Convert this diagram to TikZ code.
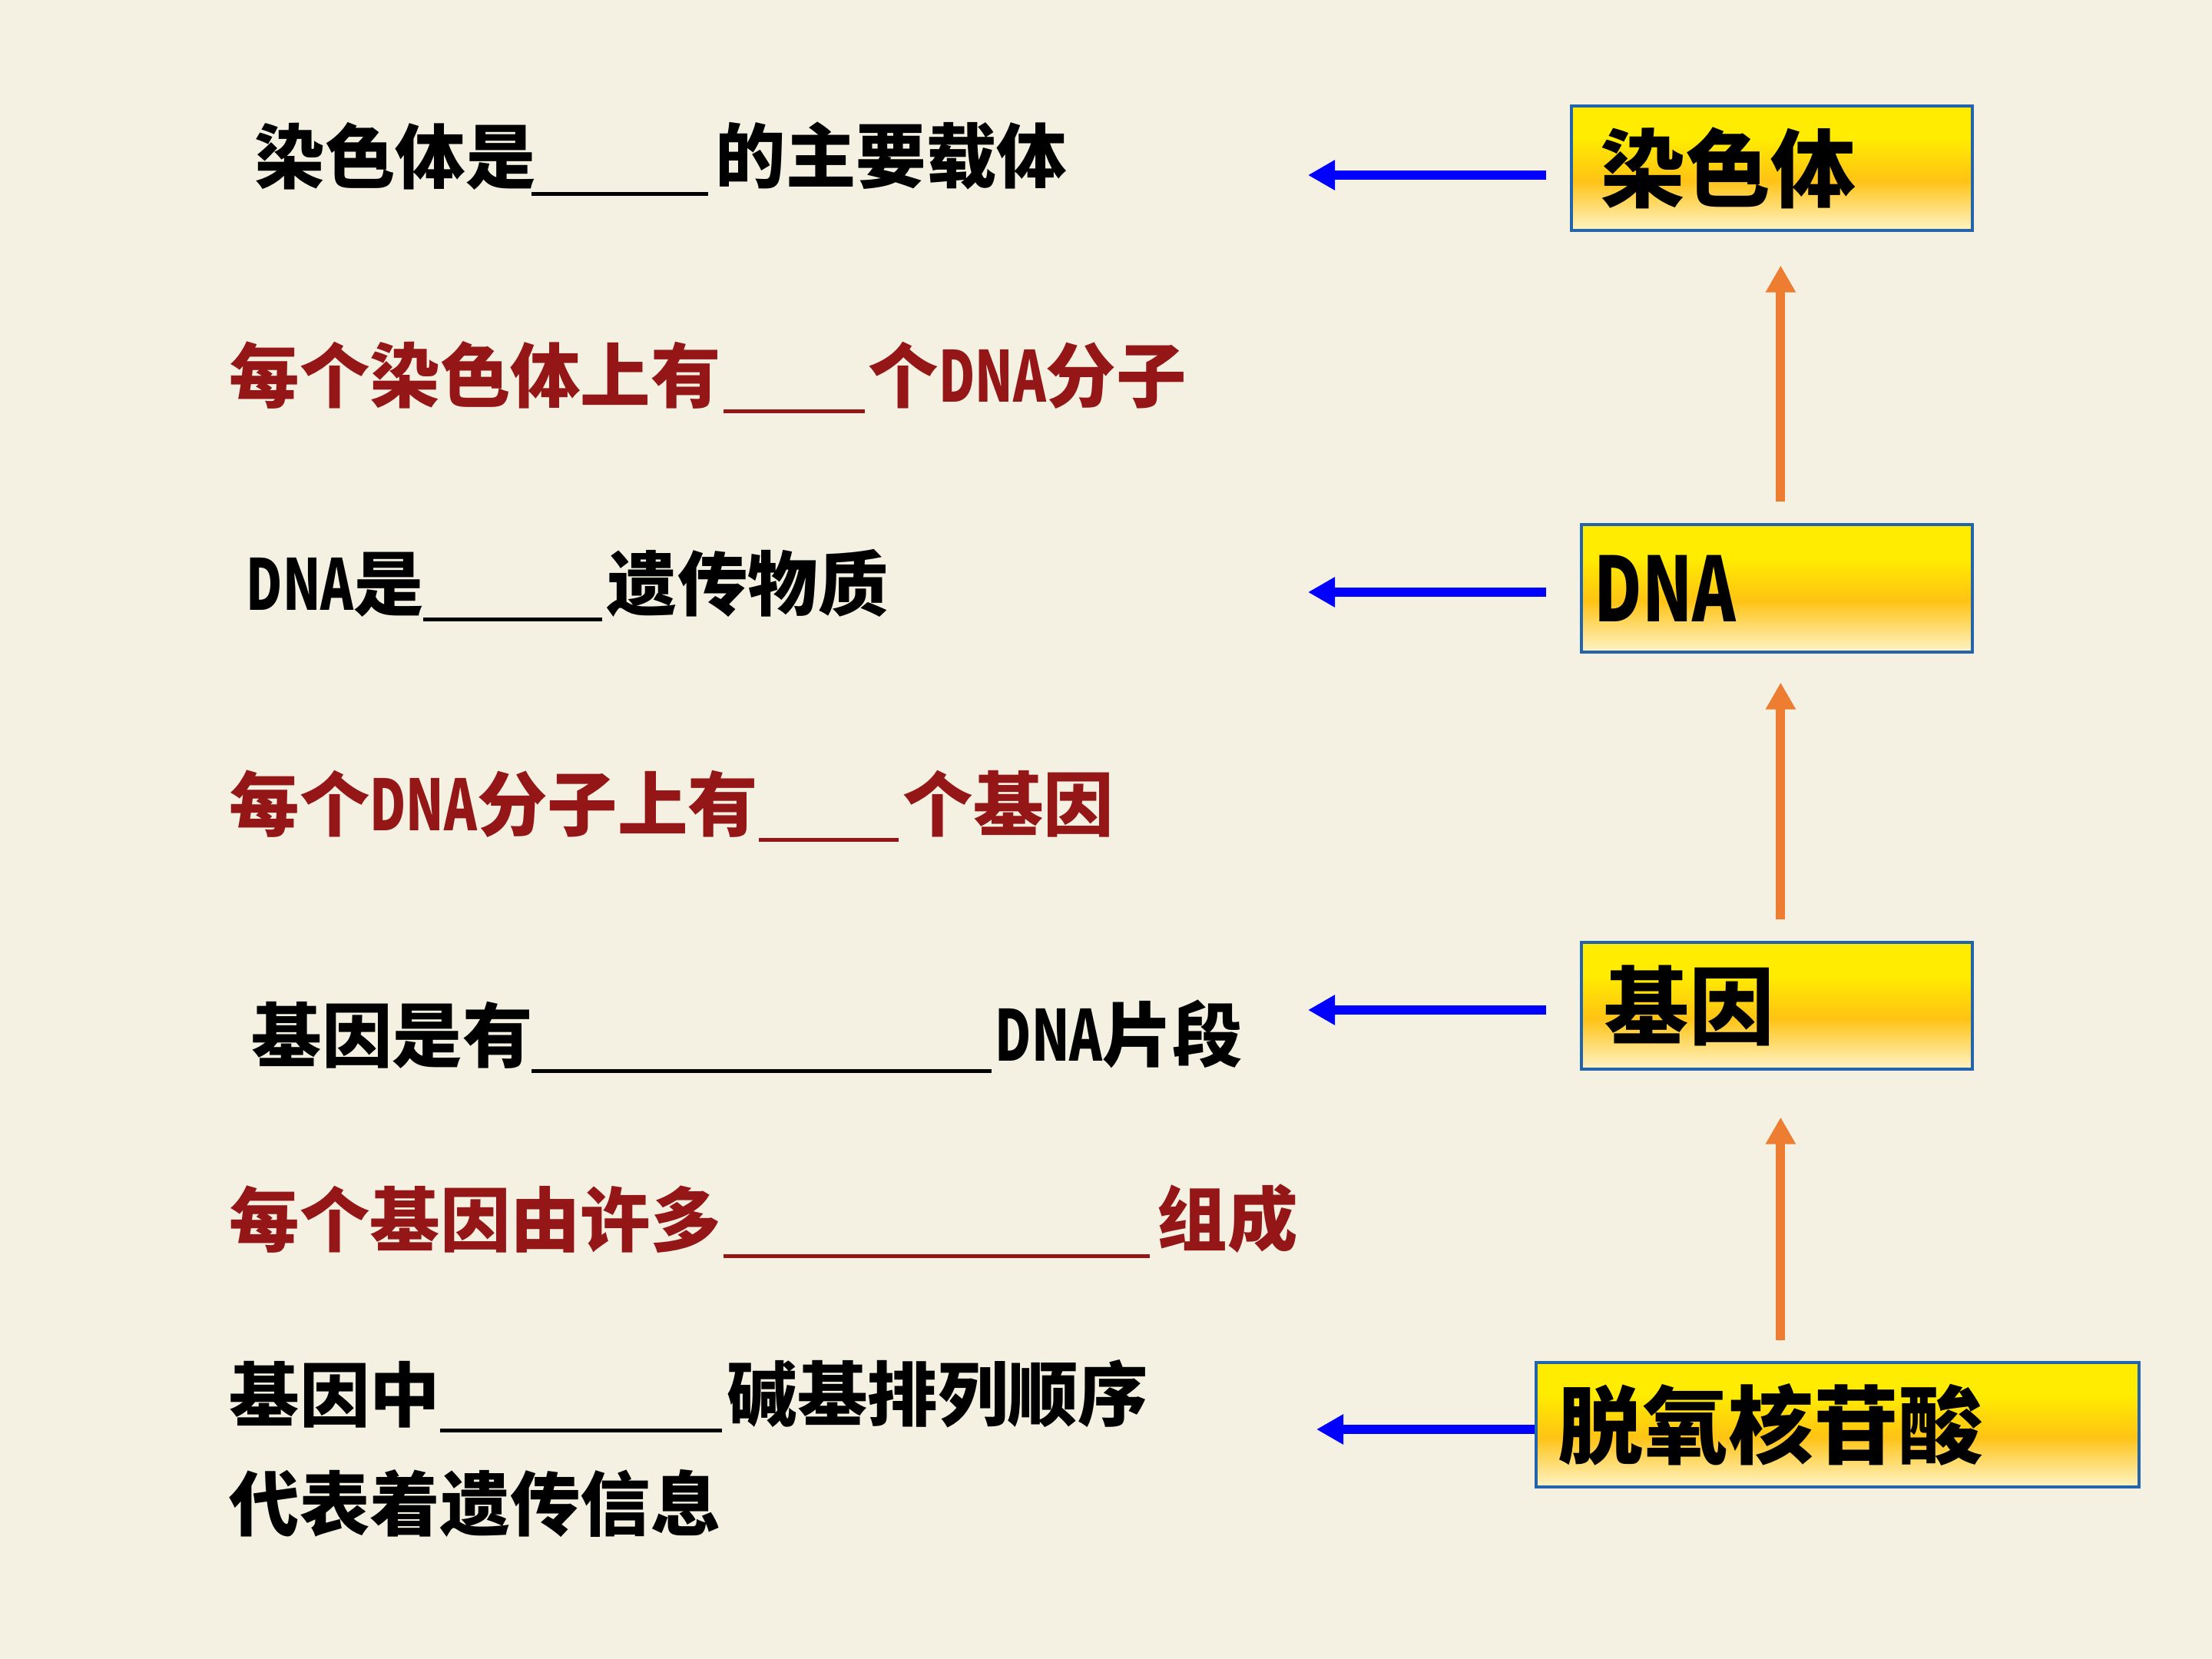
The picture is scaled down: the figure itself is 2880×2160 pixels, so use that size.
\documentclass[tikz,border=0pt]{standalone}
\usepackage{fontspec}
\usepackage{graphicx}
\usetikzlibrary{arrows.meta}
\newfontfamily\cjk{Noto Sans CJK SC}
\definecolor{bgcol}{RGB}{244,241,226}
\definecolor{dred}{RGB}{148,22,22}
\definecolor{boxblue}{RGB}{36,100,170}
\definecolor{arrblue}{RGB}{0,0,255}
\definecolor{arrorange}{RGB}{237,125,49}
\definecolor{byel}{RGB}{255,236,0}
\definecolor{borng}{RGB}{255,195,20}
\definecolor{bpale}{RGB}{255,244,200}
\pgfdeclareverticalshading{boxshade}{100bp}{color(0bp)=(bpale); color(25bp)=(bpale); color(45bp)=(borng); color(62bp)=(byel); color(75bp)=(byel); color(100bp)=(byel)}
\newcommand\rowfont{\cjk\bfseries\fontsize{26pt}{30pt}\selectfont}
\newcommand\boxfont{\cjk\bfseries\fontsize{31.5pt}{36pt}\selectfont}
\newcommand\dna{\scalebox{0.71}[1]{DNA}}
\newcommand\bigdna{\fontsize{33pt}{36pt}\selectfont\scalebox{0.74}[1]{DNA}}
\tikzset{
  txt/.style={inner sep=0pt, anchor=south west, font=\rowfont},
  blk/.style={txt, text=black},
  rd/.style={txt, text=dred},
  blank/.style={line width=0.05cm},
  boxnode/.style={draw=boxblue, line width=0.035cm, shade, shading=boxshade, inner ysep=0pt, align=left, font=\boxfont, anchor=north west},
  barrow/.style={draw=arrblue, line width=0.12cm, -{Triangle[length=0.35cm,width=0.37cm]}},
  oarrow/.style={draw=arrorange, line width=0.12cm, -{Triangle[length=0.35cm,width=0.37cm]}}
}
\begin{document}
\begin{tikzpicture}[x=0.01cm,y=-0.01cm]
\fill[bgcol] (0,0) rectangle (2880,2160);
\useasboundingbox (0,0) rectangle (2880,2160);
% boxes
\node[boxnode, inner xsep=0.38cm, text width=4.46cm, minimum height=1.62cm] (b1) at (2044,136) {染色体};
\node[boxnode, inner xsep=0.17cm, text width=4.75cm, minimum height=1.66cm] (b2) at (2057,681) {\bigdna};
\node[boxnode, inner xsep=0.30cm, text width=4.49cm, minimum height=1.65cm] (b3) at (2057,1225) {基因};
\node[boxnode, inner xsep=0.29cm, text width=7.27cm, minimum height=1.62cm] (b4) at (1998,1772) {脱氧核苷酸};
% blue arrows
\coordinate (t1) at (1703,228);
\coordinate (t2) at (1703,771);
\coordinate (t3) at (1703,1315);
\coordinate (t4) at (1714,1861);
\draw[barrow] ([shift={(-31,0)}]b1.west |- t1) -- (t1);
\draw[barrow] ([shift={(-44,0)}]b2.west |- t2) -- (t2);
\draw[barrow] ([shift={(-44,0)}]b3.west |- t3) -- (t3);
\draw[barrow] (b4.west |- t4) -- (t4);
% orange arrows
\coordinate (o1s) at ([shift={(5,-28)}]b2.north);
\draw[oarrow] (o1s) -- ([yshift=-0.44cm]o1s |- b1.south);
\coordinate (o2s) at ([shift={(5,-28)}]b3.north);
\draw[oarrow] (o2s) -- ([yshift=-0.38cm]o2s |- b2.south);
\coordinate (o3x) at (b3.north |- b4.north);
\coordinate (o3s) at ([shift={(5,-27)}]o3x);
\draw[oarrow] (o3s) -- ([yshift=-0.61cm]o3s |- b3.south);
% row 1
\node[blk] (r1a) at (331,248) {染色体是};
\draw[blank] (692,252) -- (922,252);
\node[blk] (r1b) at (931,248) {的主要载体};
% row 2
\node[rd] (r2a) at (298,533) {每个染色体上有};
\draw[blank, dred] (942,535) -- (1126,535);
\node[rd] (r2b) at (1130,533) {个\dna 分子};
% row 3
\node[blk] (r3a) at (320,804) {\dna 是};
\draw[blank] (551,806) -- (784,806);
\node[blk] (r3b) at (790,804) {遗传物质};
% row 4
\node[rd] (r4a) at (298,1091) {每个\dna 分子上有};
\draw[blank, dred] (988,1093) -- (1170,1093);
\node[rd] (r4b) at (1175,1091) {个基因};
% row 5
\node[blk] (r5a) at (327,1392) {基因是有};
\draw[blank] (692,1394) -- (1291,1394);
\node[blk] (r5b) at (1295,1392) {\dna 片段};
% row 6
\node[rd] (r6a) at (298,1632) {每个基因由许多};
\draw[blank, dred] (942,1635) -- (1497,1635);
\node[rd] (r6b) at (1506,1632) {组成};
% row 7
\node[blk] (r7a) at (298,1860) {基因中};
\draw[blank] (573,1862) -- (940,1862);
\node[blk] (r7b) at (946,1860) {碱基排列顺序};
% row 8
\node[blk] (r8) at (298,2002) {代表着遗传信息};
\end{tikzpicture}
\end{document}
